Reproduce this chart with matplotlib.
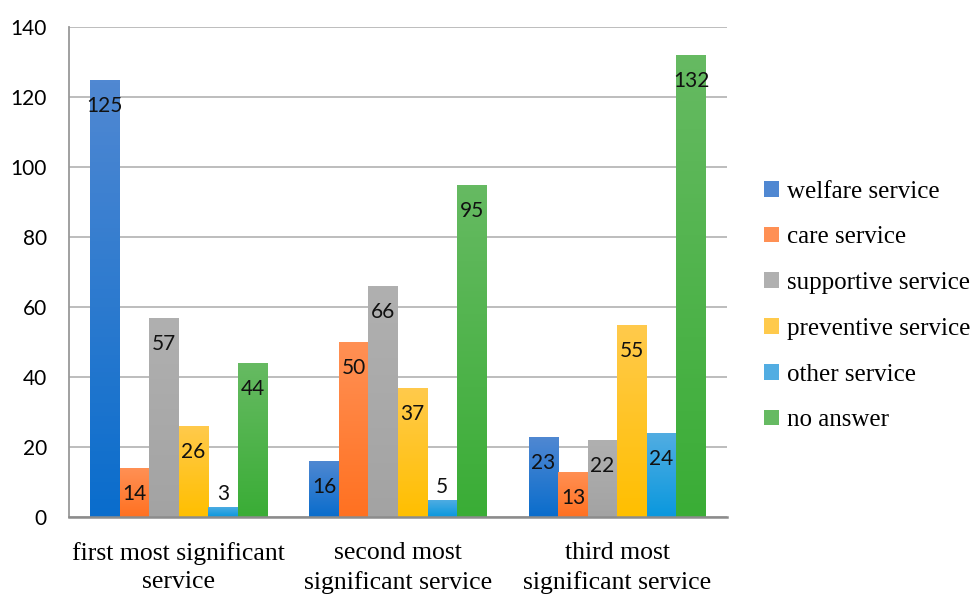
import matplotlib.pyplot as plt
import numpy as np
from matplotlib.colors import LinearSegmentedColormap

categories = ['first most significant\nservice', 'second most\nsignificant service',
              'third most\nsignificant service']
series = ['welfare service', 'care service', 'supportive service',
          'preventive service', 'other service', 'no answer']
welfare = [125, 16, 23]
care = [14, 50, 13]
supportive = [57, 66, 22]
preventive = [26, 37, 55]
other = [3, 5, 24]
no_answer = [44, 95, 132]
values = [welfare, care, supportive, preventive, other, no_answer]

# (top, bottom) colours of the gradient fills
grads = [('#5088d2', '#0a6dcc'), ('#ff9054', '#ff7121'), ('#b0b0b0', '#a3a3a3'),
         ('#ffca4c', '#ffbf00'), ('#52ade2', '#0a98de'), ('#66ba62', '#3aad36')]

plt.rcParams['font.family'] = ['Lato', 'DejaVu Sans']
fig = plt.figure(figsize=(9.79, 5.95), dpi=100)
ax = fig.add_axes([69/979, 1-517/595, 658/979, 490/595])

n = len(series)
width = 0.1345
x = np.arange(len(categories))
grad = np.linspace(0, 1, 100).reshape(-1, 1)

handles = []
for i, (name, vals) in enumerate(zip(series, values)):
    top, bot = grads[i]
    cmap = LinearSegmentedColormap.from_list(name, [bot, top])
    pos = x + (i - (n - 1) / 2) * width
    bars = ax.bar(pos, vals, width, color=top, label=name, linewidth=0)
    for b, v in zip(bars, vals):
        b.set_facecolor('none')
        im = ax.imshow(grad, cmap=cmap, aspect='auto', origin='lower',
                       extent=[b.get_x(), b.get_x() + b.get_width(), 0, v], zorder=2)
        im.set_clip_path(b)
        # short bars get their label above, the rest inside near the top
        if v < 8:
            ax.annotate(str(v), (b.get_x() + b.get_width() / 2, v), xytext=(0, 9),
                        textcoords='offset points', ha='center', va='center',
                        fontsize=15, color='#111111', zorder=4)
        else:
            ax.annotate(str(v), (b.get_x() + b.get_width() / 2, v), xytext=(0, -19),
                        textcoords='offset points', ha='center', va='center',
                        fontsize=15, color='#111111', zorder=4)
    handles.append(plt.Rectangle((0, 0), 1, 1, facecolor=top))

ax.set_xlim(-0.5, 2.5)
ax.set_ylim(0, 140)
ax.set_yticks(range(0, 141, 20))
ax.set_xticks(x)
ax.set_xticklabels(categories, family='Liberation Serif', fontsize=18.5,
                   linespacing=1.38)
ax.tick_params(axis='x', length=0, pad=18)
ax.tick_params(axis='y', length=0, pad=16, labelsize=15)
ax.yaxis.grid(True, color='#b8b8b8', linewidth=1.3)
ax.set_axisbelow(True)
for s in ['top', 'right']:
    ax.spines[s].set_visible(False)
ax.spines['left'].set_color('#999999')
ax.spines['left'].set_linewidth(1.3)
ax.spines['bottom'].set_color('#8c8c8c')
ax.spines['bottom'].set_linewidth(1.8)

fig.legend(handles, series, loc='center left', bbox_to_anchor=(752/979, 1-306/595),
           frameon=False, prop={'family': 'Liberation Serif', 'size': 18},
           handlelength=0.6, handleheight=0.6, handletextpad=0.3,
           labelspacing=0.95, borderpad=0)

fig.savefig('out.png', dpi=100)
